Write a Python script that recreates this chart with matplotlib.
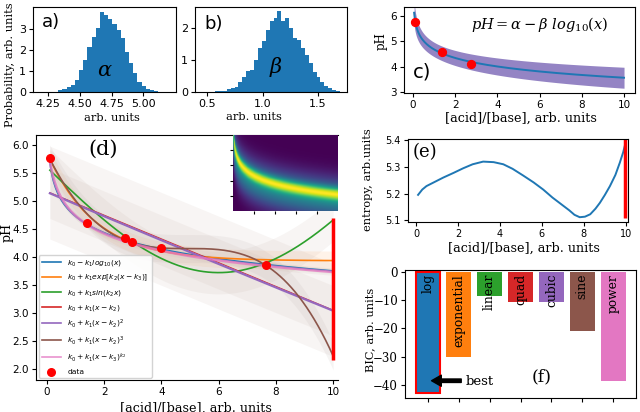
import numpy as np
import matplotlib.pyplot as plt

SERIF = 'DejaVu Serif'
BLUE = '#1f77b4'
W, H = 640, 412

# a), b) histograms of the sampled parameters (density per bin)
alpha_range = (4.329, 5.118)
alpha_density = [0.10, 0.14, 0.24, 0.33, 0.57, 1.05, 1.53, 2.17, 2.65, 3.05, 3.81, 3.68,
                 3.49, 3.24, 2.97, 2.57, 1.93, 1.37, 0.89, 0.49, 0.29, 0.14, 0.10, 0.06]
beta_range = (0.572, 1.698)
beta_density = [0.02, 0.03, 0.04, 0.09, 0.12, 0.17, 0.30, 0.48, 0.66, 0.69, 1.01, 1.37,
                1.60, 1.95, 2.23, 2.34, 2.53, 2.23, 2.34, 2.02, 1.69, 1.64, 1.37, 1.16,
                0.90, 0.64, 0.48, 0.32, 0.20, 0.14, 0.07, 0.04]

# c) three measurements + log model
c_x = [0.11, 1.37, 2.76]
c_ph = [5.75, 4.59, 4.11]
alpha_mean, beta_mean = 4.68, 1.11
alpha_sd, beta_sd, noise_sd = 0.10, 0.15, 0.10

# d) six measurements + fitted models
d_x = [0.10, 1.40, 2.74, 2.98, 3.99, 7.64]
d_ph = [5.76, 4.60, 4.34, 4.27, 4.155, 3.86]
k_log = [4.725, 0.975]
k_exp = [3.93, 1.82, -0.60, 0.10]
k_sin = [5.60, -1.88, 0.2618]
k_lin = [4.10, -0.2121, 5.05]
k_quad = [-16.6, 0.000544, 200.0]
k_cub = [4.15, -0.01447, 4.90]
k_pow = [-0.276, 5.05, -0.10, -0.08]
band_hw = [0.05, 0.17, 0.38, 0.83, 0.45, 0.25, 0.06]
model_labels = [r'$k_0 - k_1 log_{10}(x)$',
                r'$k_0 + k_1 exp[k_2(x - k_3)]$',
                r'$k_0 + k_1 sin(k_2 x)$',
                r'$k_0 + k_1(x - k_2)$',
                r'$k_0 + k_1(x - k_2)^2$',
                r'$k_0 + k_1(x - k_2)^3$',
                r'$k_0 + k_1(x - k_3)^{k_2}$']
spread_x10 = [2.16, 4.70]

# e) entropy of predictions
e_x = [0.1, 0.3, 0.5, 0.8, 1.3, 1.8, 2.25, 2.7, 3.2, 3.7, 4.16, 4.6, 5.1, 5.6, 6.06,
       6.5, 7.0, 7.3, 7.55, 7.8, 8.05, 8.3, 8.55, 8.76, 9.0, 9.24, 9.5, 9.71, 9.87, 9.95]
e_y = [5.195, 5.215, 5.228, 5.24, 5.26, 5.278, 5.295, 5.31, 5.32, 5.318, 5.31, 5.293,
       5.268, 5.242, 5.215, 5.185, 5.155, 5.137, 5.12, 5.111, 5.113, 5.122, 5.143,
       5.165, 5.195, 5.228, 5.27, 5.316, 5.355, 5.38]
e_next = 9.95

# f) BIC per model
bic_names = ['log', 'exponential', 'linear', 'quad', 'cubic', 'sine', 'power']
bic_vals = [-43.0, -30.2, -8.6, -10.8, -10.6, -21.0, -38.5]


def models(x):
    return [k_log[0] - k_log[1] * np.log10(x),
            k_exp[0] + k_exp[1] * np.exp(k_exp[2] * (x - k_exp[3])),
            k_sin[0] + k_sin[1] * np.sin(k_sin[2] * x),
            k_lin[0] + k_lin[1] * (x - k_lin[2]),
            k_quad[0] + k_quad[1] * (x - k_quad[2]) ** 2,
            k_cub[0] + k_cub[1] * (x - k_cub[2]) ** 3,
            k_pow[0] + k_pow[1] * (x - k_pow[3]) ** k_pow[2]]


def px_axes(left, top, right, bottom, **kw):
    return fig.add_axes([left / W, 1 - bottom / H, (right - left) / W, (bottom - top) / H], **kw)


def label(x, y, s, **kw):
    kw.setdefault('family', SERIF)
    fig.text(x / W, 1 - y / H, s, ha=kw.pop('ha', 'center'), va=kw.pop('va', 'center'), **kw)


plt.rcParams.update({'axes.linewidth': 0.8, 'xtick.major.size': 3, 'ytick.major.size': 3,
                     'xtick.major.pad': 2, 'ytick.major.pad': 2})
fig = plt.figure(figsize=(6.4, 4.12), dpi=100)

# ---- a)
ax = px_axes(33, 7, 176, 92)
ax.stairs(alpha_density, np.linspace(*alpha_range, len(alpha_density) + 1), fill=True, color=BLUE)
ax.set_xlim(4.129, 5.258)
ax.set_ylim(0, 4.07)
ax.set_xticks([4.25, 4.50, 4.75, 5.00])
ax.set_yticks([0, 1, 2, 3])
ax.tick_params(labelsize=8)
ax.text(0.06, 0.82, 'a)', transform=ax.transAxes, fontsize=13, va='center')
ax.text(4.697, 1.05, r'$\alpha$', fontsize=15, ha='center', va='center', math_fontfamily='dejavuserif')
label(112, 118, 'arb. units', fontsize=8.2)
label(10, 65, 'Probability, arb. units', fontsize=8.2, rotation=90)

# ---- b)
ax = px_axes(195, 7, 347, 92)
ax.stairs(beta_density, np.linspace(*beta_range, len(beta_density) + 1), fill=True, color=BLUE)
ax.set_xlim(0.392, 1.761)
ax.set_ylim(0, 2.67)
ax.set_xticks([0.5, 1.0, 1.5])
ax.set_yticks([0, 1, 2])
ax.tick_params(labelsize=8)
ax.text(0.06, 0.8, 'b)', transform=ax.transAxes, fontsize=13, va='center')
ax.text(1.12, 0.79, r'$\beta$', fontsize=15, ha='center', va='center', math_fontfamily='dejavuserif')
label(254, 117, 'arb. units', fontsize=8.2)

# ---- c)
ax = px_axes(404, 7, 635, 93)
xc = np.linspace(0.05, 10, 300)
mu = alpha_mean - beta_mean * np.log10(xc)
sd = np.sqrt(alpha_sd ** 2 + (np.log10(xc) * beta_sd) ** 2 + noise_sd ** 2)
ax.fill_between(xc, mu - 2 * sd, mu + 2 * sd, color='#9484c4', lw=0)
ax.plot(xc, mu, color=BLUE, lw=1.4)
ax.scatter(c_x, c_ph, s=32, color='red', zorder=3)
ax.set_xlim(-0.43, 10.52)
ax.set_ylim(2.97, 6.35)
ax.set_xticks(range(0, 11, 2))
ax.set_yticks([3, 4, 5, 6])
ax.tick_params(labelsize=7.5)
ax.text(0.43, 3.78, 'c)', fontsize=14, ha='center', va='center')
label(540, 25, r'$pH = \alpha - \beta\ log_{10}(x)$', fontsize=10.5, math_fontfamily='dejavuserif')
label(381, 41, 'pH', fontsize=8.5, rotation=90)
label(521, 118, '[acid]/[base], arb. units', fontsize=9.2)

# ---- d)
ax = px_axes(36, 135, 338, 380)
xd = np.linspace(0.1, 10, 300)
curves = models(xd)
band_colors = ['#c9b5ab', 'C1', '#c9b5ab', '#c9b5ab', '#c9b5ab', '#b8aaa8', '#c9b5ab']
for i, y in enumerate(curves):
    ax.fill_between(xd, y - band_hw[i], y + band_hw[i], color=band_colors[i],
                    alpha=0.09 if i == 1 else 0.13, lw=0, zorder=1)
line_w = [1.2, 1.2, 1.2, 0.7, 1.6, 1.2, 1.9]
for i, y in enumerate(curves):
    ax.plot(xd, y, color=f'C{i}', lw=line_w[i], alpha=0.8 if i == 6 else 1.0,
            label=model_labels[i], zorder=2)
ax.vlines(10, *spread_x10, color='red', lw=2.5, zorder=4)
ax.scatter(d_x, d_ph, s=30, color='red', zorder=5, label='data')
ax.set_xlim(-0.385, 10.17)
ax.set_ylim(1.80, 6.18)
ax.set_xticks(range(0, 11, 2))
ax.set_yticks(np.arange(2.0, 6.01, 0.5))
ax.yaxis.set_major_formatter('{x:.1f}')
ax.tick_params(labelsize=7.5)
ax.spines['right'].set_visible(False)
ax.text(1.96, 5.93, '(d)', fontsize=15, ha='center', va='center', family=SERIF)
leg = ax.legend(loc='lower left', bbox_to_anchor=(0.004, 0.004), borderaxespad=0.2,
                fontsize=5.4, labelspacing=0.62, handlelength=2.6, framealpha=0.85,
                edgecolor='#cccccc')
for h in leg.legend_handles[:7]:
    h.set_linewidth(1.2)
label(7, 232, 'pH', fontsize=9, rotation=90)
label(196, 402, '[acid]/[base], arb. units', fontsize=9.2, va='top')

# inset: density of the log model predictions
ins = px_axes(233, 135, 338, 211, zorder=6)
xi = np.linspace(0.02, 10, 600)
yi = np.linspace(2.9, 6.0, 90)
mu_i = alpha_mean - beta_mean * np.log10(xi)
dens = (np.exp(-0.5 * ((yi[:, None] - mu_i[None, :]) / 0.17) ** 2)
        + 0.55 * np.exp(-0.5 * ((yi[:, None] - mu_i[None, :] + 0.2) / 0.5) ** 2))
dens = dens.reshape(len(yi), 120, 5).mean(axis=2) ** 0.75
ins.imshow(dens, origin='lower', aspect='auto', cmap='viridis', extent=(0, 10, 2.9, 6.0),
           interpolation='bilinear')
ins.set_xticks([2, 4, 6, 8])
ins.set_yticks(np.linspace(2.9, 6.0, 6)[1:-1])
ins.tick_params(length=2, labelbottom=False, labelleft=False)
for s in ins.spines.values():
    s.set_visible(False)

# ---- e)
ax = px_axes(408, 139, 628, 222)
ax.plot(e_x, e_y, color=BLUE, lw=1.4)
ax.vlines(e_next, 5.109, 5.404, color='red', lw=2.5)
ax.set_xlim(-0.38, 10.1)
ax.set_ylim(5.093, 5.405)
ax.set_xticks(range(0, 11, 2))
ax.set_yticks([5.1, 5.2, 5.3, 5.4])
ax.tick_params(labelsize=7)
ax.text(0.45, 5.355, '(e)', fontsize=13, ha='center', va='center', family=SERIF)
label(368, 180, 'entropy, arb.units', fontsize=8.2, rotation=90)
label(524, 248, '[acid]/[base], arb. units', fontsize=9.2)

# ---- f)
ax = px_axes(405, 270, 636, 398)
pos = np.arange(len(bic_names))
bars = ax.bar(pos, bic_vals, width=0.8, color=[f'C{i}' for i in [0, 1, 2, 3, 4, 5, 6]])
bars[0].set_edgecolor('red')
bars[0].set_linewidth(1.5)
for i, name in enumerate(bic_names):
    ax.text(pos[i], -0.8, name, rotation=90, ha='center', va='top', fontsize=8.8, family=SERIF)
ax.annotate('', xy=(0.12, -38.5), xytext=(1.08, -38.5),
            arrowprops=dict(width=2.5, headwidth=8, headlength=7, color='k'))
ax.text(1.22, -38.8, 'best', fontsize=9.5, va='center', family=SERIF)
ax.text(3.7, -37.3, '(f)', fontsize=12.5, ha='center', va='center', family=SERIF)
ax.set_ylim(-44.6, 0.6)
ax.set_xticks(pos)
ax.set_xticklabels([])
ax.set_yticks([0, -10, -20, -30, -40])
for t in ax.get_yticklabels():
    t.set_family(SERIF)
ax.tick_params(axis='y', labelsize=8.5)
label(370, 330, 'BIC, arb. units', fontsize=8.2, rotation=90)

fig.savefig('out.png', dpi=100)
